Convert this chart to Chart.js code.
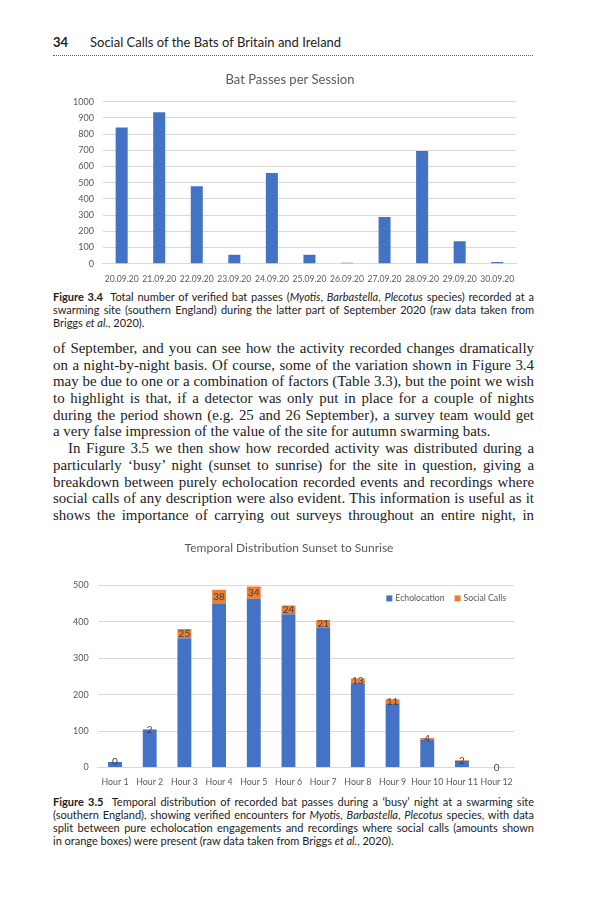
<!DOCTYPE html>
<html>
<head>
<meta charset="utf-8">
<script src="https://cdn.jsdelivr.net/npm/chart.js@4.4.1/dist/chart.umd.min.js"></script>
<style>
  html, body { margin: 0; padding: 0; background: #fff; }
  body { width: 598px; height: 911px; position: relative; overflow: hidden; }
  .abs { position: absolute; }
  #header { left: 53px; top: 34px; width: 480px; font-family: Lato, sans-serif; font-size: 13px; color: #222; }
  #header b { display: inline-block; width: 37px; }
  #rule { left: 53px; top: 55px; width: 480px; height: 0; border-top: 1px dotted #666; }
  .chartbox { position: absolute; }
  .caption { left: 53px; width: 481px; font-family: Lato, sans-serif; font-size: 11px; line-height: 13px; color: #222; }
  .caption div, .body div { text-align: justify; text-align-last: justify; height: 1lh; overflow: visible; }
  .caption div.last, .body div.last { text-align-last: left; }
  .body { left: 53px; width: 481px; font-family: "Liberation Serif", serif; font-size: 14.9px; line-height: 16.7px; color: #222; }
  .body div.indent { padding-left: 15px; }
</style>
</head>
<body>
<div id="header" class="abs"><b>34</b>Social Calls of the Bats of Britain and Ireland</div>
<div id="rule" class="abs"></div>

<div class="chartbox" style="left:60px; top:66px; width:470px; height:220px;"><canvas id="passChart"></canvas></div>

<div class="caption abs" style="top:290px;">
  <div><b>Figure 3.4</b>&nbsp; Total number of verified bat passes (<i>Myotis</i>, <i>Barbastella</i>, <i>Plecotus</i> species) recorded at a</div>
  <div>swarming site (southern England) during the latter part of September 2020 (raw data taken from</div>
  <div class="last">Briggs <i>et al.</i>, 2020).</div>
</div>

<div class="body abs" style="top:340px;">
  <div>of September, and you can see how the activity recorded changes dramatically</div>
  <div>on a night-by-night basis. Of course, some of the variation shown in Figure 3.4</div>
  <div>may be due to one or a combination of factors (Table 3.3), but the point we wish</div>
  <div>to highlight is that, if a detector was only put in place for a couple of nights</div>
  <div>during the period shown (e.g. 25 and 26 September), a survey team would get</div>
  <div class="last">a very false impression of the value of the site for autumn swarming bats.</div>
  <div class="indent">In Figure 3.5 we then show how recorded activity was distributed during a</div>
  <div>particularly ‘busy’ night (sunset to sunrise) for the site in question, giving a</div>
  <div>breakdown between purely echolocation recorded events and recordings where</div>
  <div>social calls of any description were also evident. This information is useful as it</div>
  <div>shows the importance of carrying out surveys throughout an entire night, in</div>
</div>

<div class="chartbox" style="left:60px; top:535px; width:470px; height:253px;"><canvas id="hourChart"></canvas></div>

<div class="caption abs" style="top:795px;">
  <div><b>Figure 3.5</b>&nbsp; Temporal distribution of recorded bat passes during a ‘busy’ night at a swarming site</div>
  <div>(southern England), showing verified encounters for <i>Myotis</i>, <i>Barbastella</i>, <i>Plecotus</i> species, with data</div>
  <div>split between pure echolocation engagements and recordings where social calls (amounts shown</div>
  <div class="last">in orange boxes) were present (raw data taken from Briggs <i>et al.</i>, 2020).</div>
</div>

<script>
// Figure 3.4 - passes per night
const sessionDates = ['20.09.20', '21.09.20', '22.09.20', '23.09.20', '24.09.20', '25.09.20',
                      '26.09.20', '27.09.20', '28.09.20', '29.09.20', '30.09.20'];
const sessionPasses = [840, 935, 478, 55, 560, 55, 5, 288, 695, 138, 10];
const sessionTicks = [0, 100, 200, 300, 400, 500, 600, 700, 800, 900, 1000];

// Figure 3.5 - hourly split
const hours = ['Hour 1', 'Hour 2', 'Hour 3', 'Hour 4', 'Hour 5', 'Hour 6',
               'Hour 7', 'Hour 8', 'Hour 9', 'Hour 10', 'Hour 11', 'Hour 12'];
const echolocation = [15, 103, 355, 450, 463, 421, 384, 231, 176, 77, 18, 0];
const socialCalls = [0, 2, 25, 38, 34, 24, 21, 13, 11, 4, 2, 0];
const hourTicks = [0, 100, 200, 300, 400, 500];

const BLUE = '#4472c4';
const ORANGE = '#ed7d31';
const GREY = '#595959';
const GRID = '#d9d9d9';
const FONT = 'Lato, "Open Sans", sans-serif';

// labels inside the orange segments
const socialLabels = {
    id: 'socialLabels',
    afterDatasetsDraw(chart) {
        const ctx = chart.ctx;
        const meta = chart.getDatasetMeta(1);
        ctx.save();
        ctx.font = '10px ' + FONT;
        ctx.fillStyle = '#404040';
        ctx.textAlign = 'center';
        ctx.textBaseline = 'middle';
        meta.data.forEach((bar, i) => {
            const y = (bar.y + bar.base) / 2;
            ctx.fillText(String(socialCalls[i]), bar.x, y);
        });
        ctx.restore();
    }
};

// legend drawn inside the plot, top right
const insideLegend = {
    id: 'insideLegend',
    afterDraw(chart) {
        const ctx = chart.ctx;
        const area = chart.chartArea;
        const items = chart.data.datasets.map(d => ({ text: d.label, color: d.backgroundColor }));
        ctx.save();
        ctx.font = '8.7px ' + FONT;
        ctx.textBaseline = 'middle';
        const box = 6, gap = 3, spacing = 10;
        let total = 0;
        items.forEach((it, i) => { total += box + gap + ctx.measureText(it.text).width + (i ? spacing : 0); });
        let x = area.right - 8 - total;
        const y = area.top + 13;
        items.forEach((it, i) => {
            if (i) x += spacing;
            ctx.fillStyle = it.color;
            ctx.fillRect(x, y - box / 2, box, box);
            x += box + gap;
            ctx.fillStyle = GREY;
            ctx.fillText(it.text, x, y);
            x += ctx.measureText(it.text).width;
        });
        ctx.restore();
    }
};

document.addEventListener("DOMContentLoaded", () => {
    const passCtx = document.getElementById('passChart').getContext('2d');
    const hourCtx = document.getElementById('hourChart').getContext('2d');

    window.passChart = new Chart(passCtx, {
        type: 'bar',
        data: {
            labels: sessionDates,
            datasets: [
                {
                    label: 'Bat passes',
                    data: sessionPasses,
                    backgroundColor: BLUE,
                    categoryPercentage: 1,
                    barPercentage: 0.32
                }
            ]
        },
        options: {
            responsive: true,
            maintainAspectRatio: false,
            animation: false,
            layout: { padding: { left: 4, right: 14, top: 0, bottom: 0 } },
            plugins: {
                legend: { display: false },
                tooltip: { enabled: false },
                title: {
                    display: true,
                    text: 'Bat Passes per Session',
                    color: GREY,
                    font: { family: FONT, size: 13, weight: 'normal' },
                    padding: { top: 6, bottom: 14 }
                }
            },
            scales: {
                x: {
                    grid: { display: false },
                    border: { color: GRID },
                    ticks: { color: GREY, font: { family: FONT, size: 8.6 }, padding: 2, maxRotation: 0, autoSkip: false }
                },
                y: {
                    min: 0,
                    max: 1000,
                    afterBuildTicks: (axis) => { axis.ticks = sessionTicks.map(v => ({ value: v })); },
                    grid: { color: GRID, drawTicks: false },
                    border: { display: false },
                    ticks: { color: GREY, font: { family: FONT, size: 9 }, padding: 9, callback: (v) => String(v) }
                }
            }
        }
    });

    window.hourChart = new Chart(hourCtx, {
        type: 'bar',
        data: {
            labels: hours,
            datasets: [
                {
                    label: 'Echolocation',
                    data: echolocation,
                    backgroundColor: BLUE,
                    categoryPercentage: 1,
                    barPercentage: 0.4
                },
                {
                    label: 'Social Calls',
                    data: socialCalls,
                    backgroundColor: ORANGE,
                    categoryPercentage: 1,
                    barPercentage: 0.4
                }
            ]
        },
        options: {
            responsive: true,
            maintainAspectRatio: false,
            animation: false,
            layout: { padding: { left: 4, right: 16, top: 0, bottom: 0 } },
            plugins: {
                tooltip: { enabled: false },
                legend: { display: false },
                title: {
                    display: true,
                    text: 'Temporal Distribution Sunset to Sunrise',
                    color: GREY,
                    font: { family: FONT, size: 12, weight: 'normal' },
                    padding: { top: 6, bottom: 30 }
                }
            },
            scales: {
                x: {
                    stacked: true,
                    grid: { display: false },
                    border: { color: GRID },
                    ticks: { color: GREY, font: { family: FONT, size: 8.8 }, padding: 1, maxRotation: 0, autoSkip: false }
                },
                y: {
                    stacked: true,
                    min: 0,
                    max: 500,
                    afterBuildTicks: (axis) => { axis.ticks = hourTicks.map(v => ({ value: v })); },
                    ticks: { color: GREY, font: { family: FONT, size: 9 }, padding: 9 },
                    grid: { color: GRID, drawTicks: false },
                    border: { display: false }
                }
            }
        },
        plugins: [socialLabels, insideLegend]
    });
});
</script>
</body>
</html>
